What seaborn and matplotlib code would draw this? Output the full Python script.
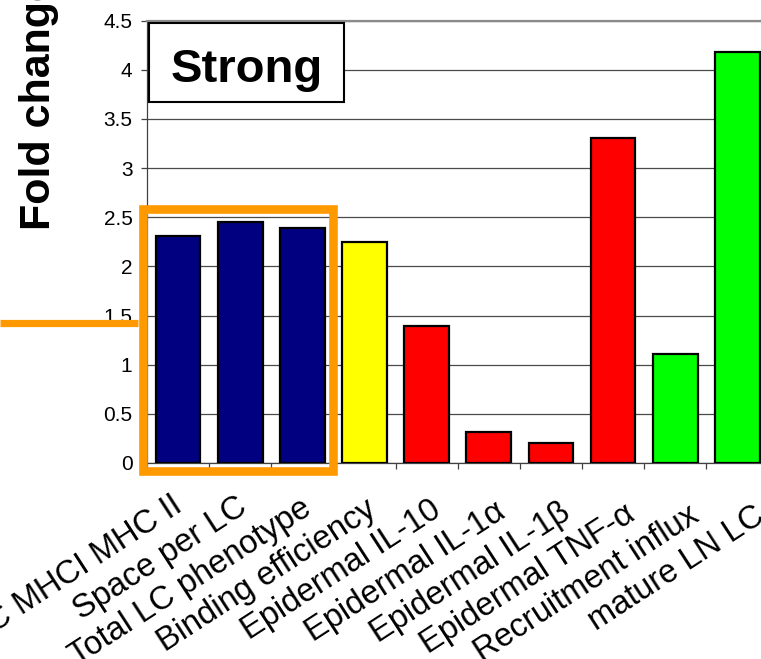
import numpy as np
import pandas as pd
import matplotlib
matplotlib.use("Agg")
import matplotlib.pyplot as plt
import matplotlib.transforms as mtransforms
from matplotlib.patches import Rectangle
from matplotlib.lines import Line2D
import seaborn as sns

# Fold change per readout
categories = [
    "LC MHCI MHC II", "Space per LC", "Total LC phenotype", "Binding efficiency",
    "Epidermal IL-10", "Epidermal IL-1\u03b1", "Epidermal IL-1\u03b2", "Epidermal TNF-\u03b1",
    "Recruitment influx", "mature LN LC",
]
fold_change = [2.31, 2.45, 2.39, 2.25, 1.39, 0.32, 0.20, 3.31, 1.11, 4.18]
groups = ["phenotype", "phenotype", "phenotype", "binding",
          "cytokine", "cytokine", "cytokine", "cytokine",
          "migration", "migration"]
group_colors = {"phenotype": "#000080", "binding": "#FFFF00",
                "cytokine": "#FF0000", "migration": "#00FF00"}
y_ticks = [0, 0.5, 1, 1.5, 2, 2.5, 3, 3.5, 4, 4.5]
y_tick_labels = ["0", "0.5", "1", "1.5", "2", "2.5", "3", "3.5", "4", "4.5"]

sns.set_theme(style="white")
plt.rcParams["font.family"] = ["Liberation Sans", "DejaVu Sans"]

W, H = 761, 659
fig = plt.figure(figsize=(W / 100, H / 100), dpi=100)
fig.patch.set_facecolor("white")
ax = fig.add_axes([147 / W, 1 - 463 / H, 621.5 / W, 442.5 / H])

df = pd.DataFrame({"label": categories, "value": fold_change, "group": groups})
sns.barplot(data=df, x="label", y="value", hue="group", palette=group_colors,
            saturation=1, dodge=False, width=0.72, edgecolor="black", linewidth=1.6,
            legend=False, ax=ax, zorder=3, order=categories)

ax.set_xlim(-0.5, len(categories) - 0.5)
ax.set_ylim(0, 4.5)
ax.set_xlabel("")
ax.set_ylabel("")

# horizontal gridlines
ax.set_yticks(y_ticks, y_tick_labels)
ax.yaxis.grid(True, color="#4a4a4a", linewidth=0.9)
ax.xaxis.grid(False)
ax.set_axisbelow(True)

for side in ["left", "bottom"]:
    ax.spines[side].set_color("#404040")
    ax.spines[side].set_linewidth(0.9)
ax.spines["top"].set_color("#8a8a8a")
ax.spines["top"].set_linewidth(1.6)
ax.spines["right"].set_visible(False)

ax.tick_params(axis="y", which="major", direction="out", length=4, width=0.9,
               color="#404040", pad=6.5, labelsize=15, labelcolor="black", left=True)

# category boundaries get tick marks; names are placed as rotated text
ax.set_xticks(np.arange(-0.5, len(categories), 1.0))
ax.set_xticklabels([])
ax.tick_params(axis="x", which="major", direction="out", length=4, width=0.9,
               color="#404040", bottom=True)

for i, name in enumerate(categories):
    # names fan out slightly toward the right-hand side
    dx = (-7 + 2.5 * i) / 100
    dy = (-27 - 1.2 * i) / 100
    offset = mtransforms.ScaledTranslation(dx, dy, fig.dpi_scale_trans)
    ax.text(i, 0, name, transform=ax.get_xaxis_transform() + offset,
            rotation=33, rotation_mode="anchor", ha="right", va="top",
            fontsize=23.5, color="black", clip_on=False)

# panel title box
ax.add_patch(Rectangle((0.0035, 0.8165), 0.3135, 0.1785, transform=ax.transAxes,
                       facecolor="white", edgecolor="black", linewidth=1.5,
                       zorder=6, clip_on=False))
ax.text(0.160, 0.861, "Strong", transform=ax.transAxes, ha="center", va="baseline",
        fontsize=34, fontweight="bold", color="black", zorder=7)

# y axis title
fig.text(50 / W, 1 - 104 / H, "Fold change", rotation=90, rotation_mode="anchor",
         ha="center", va="baseline", fontsize=31, fontweight="bold", color="black")

# highlight around the first three readouts
ax.add_patch(Rectangle((-0.572, -0.08), 3.072, 2.66, fill=False,
                       edgecolor="#FF9900", linewidth=6.2, zorder=8, clip_on=False))
fig.add_artist(Line2D([0, 138 / W], [1 - 322.5 / H, 1 - 322.5 / H],
                      transform=fig.transFigure, color="#FF9900", linewidth=5.2,
                      solid_capstyle="butt", zorder=9))

fig.savefig("out.png", dpi=100, facecolor="white")
